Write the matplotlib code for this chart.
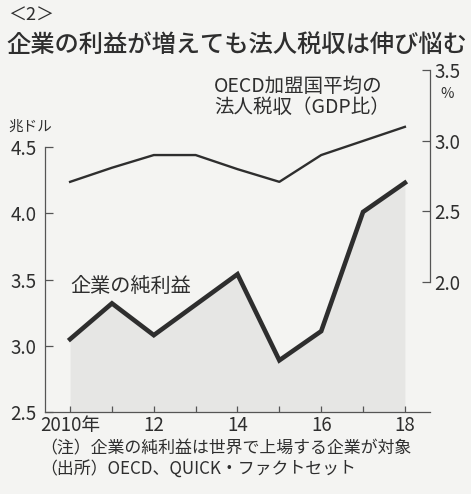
import matplotlib
matplotlib.use('Agg')
import matplotlib.pyplot as plt

plt.rcParams['font.family'] = ['Noto Sans CJK JP', 'DejaVu Sans']

# data
years = [2010, 2011, 2012, 2013, 2014, 2015, 2016, 2017, 2018]
profit = [3.05, 3.32, 3.08, 3.31, 3.54, 2.89, 3.11, 4.01, 4.23]   # 兆ドル
oecd_tax = [2.71, 2.81, 2.90, 2.90, 2.80, 2.71, 2.90, 3.00, 3.10]  # % of GDP

xtick_labels = ['2010年', '', '12', '', '14', '', '16', '', '18']
left_ticks = [2.5, 3.0, 3.5, 4.0, 4.5]
right_ticks = [2.0, 2.5, 3.0, 3.5]

bg = '#f4f4f2'
ink = '#2e2e2e'
W, H = 471, 494

fig = plt.figure(figsize=(W / 100, H / 100), dpi=100, facecolor=bg)


def px(x, y):
    return x / W, 1 - y / H


ax = fig.add_axes([45 / W, 1 - 412 / H, (430 - 45) / W, (412 - 60) / H])
ax.set_facecolor('none')
ax.set_xlim(2009.40, 2018.6)
ax.set_ylim(2.5, 5.157)

ax.fill_between(years, profit, 2.5, color='#e6e6e4', lw=0, zorder=1)
ax.plot(years, profit, color=ink, lw=3.3, solid_joinstyle='miter', zorder=3)

ax.spines['top'].set_visible(False)
ax.spines['right'].set_visible(False)
ax.spines['left'].set_bounds(2.5, 4.5)
for s in ('left', 'bottom'):
    ax.spines[s].set_color('#555555')
    ax.spines[s].set_linewidth(0.9)

ax.set_yticks(left_ticks)
ax.set_yticklabels(['2.5', '3.0', '3.5', '4.0', '4.5'])
ax.tick_params(axis='y', direction='in', length=6, width=0.9, color='#555555',
               labelsize=13.5, labelcolor=ink, pad=6)
ax.set_xticks(years)
ax.set_xticklabels(xtick_labels)
ax.tick_params(axis='x', direction='in', length=4, width=0.9, color='#555555',
               labelsize=13.5, labelcolor=ink, pad=2)

ax2 = ax.twinx()
ax2.set_ylim(1.078, 3.574)
ax2.plot(years, oecd_tax, color=ink, lw=1.7, zorder=3)
for s in ('top', 'left', 'bottom'):
    ax2.spines[s].set_visible(False)
ax2.spines['right'].set_bounds(2.0, 3.5)
ax2.spines['right'].set_color('#555555')
ax2.spines['right'].set_linewidth(0.9)
ax2.set_yticks(right_ticks)
ax2.set_yticklabels(['2.0', '2.5', '3.0', '3.5'])
ax2.tick_params(axis='y', direction='in', length=6, width=0.9, color='#555555',
                labelsize=13.5, labelcolor=ink, pad=3)

# texts
fig.text(*px(8, 16), '＜2＞', fontsize=13, color=ink, va='center')
fig.text(*px(6, 45), '企業の利益が増えても法人税収は伸び悩む', fontsize=17.5,
         fontweight='medium', color=ink, va='center')
fig.text(*px(8, 127), '兆ドル', fontsize=10.5, color=ink, va='center')
fig.text(*px(440, 94), '%', fontsize=10.5, color=ink, va='center')
fig.text(*px(214, 97), 'OECD加盟国平均の\n法人税収（GDP比）', fontsize=14,
         color=ink, va='center', linespacing=1.0)
fig.text(*px(70, 286), '企業の純利益', fontsize=14.5, color=ink, va='center')
fig.text(*px(40, 448), '（注）企業の純利益は世界で上場する企業が対象',
         fontsize=12.2, color=ink, va='center')
fig.text(*px(40, 470), '（出所）OECD、QUICK・ファクトセット',
         fontsize=12.2, color=ink, va='center')

fig.savefig('out.png', dpi=100, facecolor=bg)
